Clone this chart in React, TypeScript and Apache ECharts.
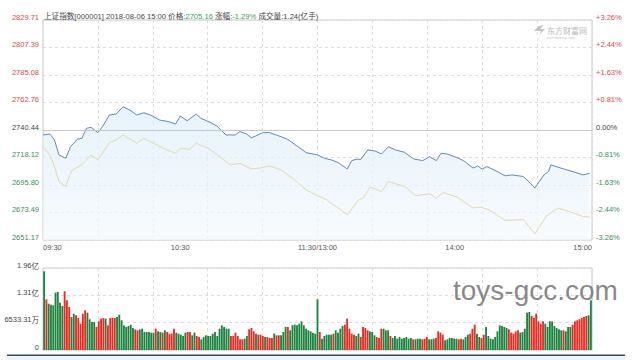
import React, { useEffect, useRef } from 'react';
import * as echarts from 'echarts';

const leftTicks = ['2651.17', '2673.49', '2695.80', '2718.12', '2740.44', '2762.76', '2785.08', '2807.39', '2829.71'];
const rightTicks = ['-3.26%', '-2.44%', '-1.63%', '-0.81%', '0.00%', '+0.81%', '+1.63%', '+2.44%', '+3.26%'];
const timeTicks = [0, 60, 120, 180, 240];
const timeLabels = ['09:30', '10:30', '11:30/13:00', '14:00', '15:00'];
const volTickNums = ['0', '6533.31', '1.31', '1.96'];
const volTickUnits = ['', '万', '亿', '亿'];

const PREV_CLOSE = 2740.44;
const PRICE_MIN = 2651.17;
const PRICE_MAX = 2829.71;
const PCT_MAX = 3.26;
const VOL_MAX = 19599.93;

const priceMinutes = [
  0, 3, 5, 7, 10, 12, 15, 17, 19, 21,
  24, 26, 29, 32, 35, 38, 41, 44, 47, 51,
  55, 58, 60, 63, 67, 69, 73, 76, 80, 84,
  86, 89, 91, 93, 96, 99, 102, 107, 111, 115,
  120, 123, 126, 129, 133, 135, 137, 139, 142, 145,
  148, 151, 154, 158, 162, 166, 169, 172, 174, 177,
  181, 184, 188, 190, 192, 194, 198, 202, 205, 210,
  213, 215, 219, 221, 222, 225, 229, 233, 236, 239,
];
const priceValues = [
  2736.4, 2737.2, 2732.4, 2720.2, 2717.5, 2726.9, 2732.9, 2733.7, 2741.8, 2742.6,
  2738.3, 2743.1, 2752.6, 2753.4, 2759.3, 2756.6, 2752.6, 2754.4, 2752.6, 2748.5,
  2747.2, 2745.3, 2751.8, 2748.0, 2753.4, 2749.9, 2746.7, 2743.7, 2736.4, 2736.4,
  2739.1, 2737.2, 2734.2, 2735.6, 2738.3, 2738.3, 2736.4, 2732.9, 2727.5, 2722.1,
  2720.2, 2717.5, 2716.2, 2714.0, 2708.9, 2715.6, 2716.7, 2716.7, 2724.3, 2723.5,
  2721.0, 2726.9, 2724.3, 2722.4, 2717.0, 2715.6, 2718.8, 2715.6, 2721.6, 2720.8,
  2718.0, 2715.4, 2709.5, 2711.3, 2708.7, 2710.8, 2707.3, 2703.2, 2704.0, 2702.7,
  2697.3, 2693.3, 2704.0, 2706.7, 2712.1, 2710.3, 2708.1, 2705.9, 2704.0, 2705.2,
];

const leadMinutes = [
  0, 3, 5, 7, 10, 12, 13, 17, 21, 24,
  29, 32, 35, 41, 44, 49, 54, 58, 60, 64,
  67, 73, 79, 82, 86, 91, 95, 99, 104, 109,
  115, 120, 124, 129, 133, 138, 140, 143, 148, 151,
  158, 163, 169, 172, 175, 181, 188, 191, 195, 202,
  210, 215, 220, 225, 230, 236, 239,
];
const leadValues = [
  2726.9, 2720.2, 2710.8, 2698.6, 2694.6, 2705.4, 2708.1, 2712.1, 2720.2, 2716.2,
  2730.2, 2732.4, 2736.4, 2729.7, 2733.7, 2729.1, 2724.3, 2721.6, 2725.6, 2724.8,
  2729.7, 2724.8, 2716.2, 2712.1, 2713.5, 2708.9, 2709.5, 2711.3, 2708.1, 2701.4,
  2691.9, 2687.1, 2683.8, 2677.1, 2671.7, 2683.8, 2685.2, 2694.1, 2690.5, 2698.6,
  2694.6, 2687.1, 2688.7, 2685.2, 2689.7, 2686.0, 2677.1, 2677.9, 2675.7, 2667.1,
  2667.7, 2656.3, 2670.3, 2677.1, 2674.4, 2670.3, 2669.8,
];

// volume per minute, in 万
const volumes = [
  18800, 12110, 11075, 10836, 10676, 13704, 13863, 11314, 10517, 14023,
  11872, 10278, 7888, 8684, 8286, 7649, 6294, 8684, 9481, 8924,
  7330, 6693, 6693, 5498, 6852, 7489, 7649, 7489, 5896, 7649,
  7649, 7649, 7888, 8445, 7091, 5896, 5498, 5737, 6055, 5259,
  4940, 4701, 4940, 5099, 4302, 4302, 4302, 4143, 4143, 5099,
  4462, 4302, 4143, 4701, 4302, 3904, 3904, 5099, 4143, 3904,
  3665, 3346, 4143, 4302, 4302, 3506, 4143, 3346, 3107, 2550,
  3107, 3506, 3346, 3346, 3904, 4302, 3346, 5099, 5896, 5498,
  5099, 5099, 3346, 3346, 4143, 3346, 2550, 2550, 2709, 3346,
  4940, 5259, 4462, 3904, 3665, 3665, 3346, 3107, 3107, 2868,
  2868, 3904, 3506, 3506, 3506, 4302, 5498, 5498, 4701, 5896,
  6055, 5896, 6294, 6852, 5896, 5099, 4701, 4462, 4143, 3904,
  12110, 4302, 2709, 3346, 3665, 3665, 3665, 3904, 4701, 4143,
  5099, 5737, 6055, 7489, 5099, 3904, 3665, 3346, 3904, 3107,
  5498, 5259, 4701, 4462, 4302, 3506, 3107, 2868, 5099, 5099,
  4701, 4701, 3346, 2868, 3346, 2709, 3107, 2709, 2868, 3107,
  2709, 2868, 2550, 2550, 2709, 2709, 2550, 2709, 3107, 2550,
  2550, 2709, 2868, 4462, 4143, 3665, 2311, 2550, 2868, 2868,
  2709, 2709, 2550, 2709, 2550, 3107, 3665, 3904, 5099, 6055,
  3904, 3107, 2868, 3665, 5498, 3346, 2709, 2550, 3107, 4462,
  5896, 5737, 5498, 5259, 4940, 4143, 3904, 4462, 4701, 4143,
  4302, 5099, 8924, 9083, 8127, 7649, 8684, 6852, 6294, 6852,
  6294, 5498, 6852, 6852, 5737, 5259, 4940, 4701, 4701, 4462,
  5498, 5498, 6055, 6852, 7091, 7330, 7649, 7888, 8127, 8286,
  11872,
];
// r = up (red), g = down (green)
const volColors =
  'grgggggggr' + 'rrggrrrrrg' + 'gggrrrrgrr' + 'rrgggggggg' + 'rrgggggggr' +
  'ggrgrrrrgg' + 'gggrrggrrg' + 'gggggggggg' +
  'ggrrrrrrgg' + 'rrrgrrrgrr' + 'rgrrgggrgg' + 'gggggggggg' +
  'grgggggrgg' + 'ggrrrrrgg' + 'r' + 'rrrgggrrrg' + 'ggrgggggg' + 'g' +
  'ggrgggrrrg' + 'ggrrrrggg' + 'g' + 'ggrrgggrrr' + 'ggrrggggg' + 'g' +
  'ggggrrrrrg' + 'ggggrrrrrr' + 'ggggggggrg' + 'ggrrrrrr' + 'r';

const RED = '#ec2a22';
const GREEN = '#1d8440';
const TXT_RED = '#d34a4a';
const TXT_GREEN = '#3a8c5a';
const FONT = '"Liberation Sans", Arial, "Noto Sans CJK SC", sans-serif';
const CJK = '"Noto Sans CJK SC", sans-serif';
const FS = 7.5;

const priceStep = (PRICE_MAX - PRICE_MIN) / 8;
const pctStep = (PCT_MAX * 2) / 8;
const volStep = VOL_MAX / 3;

function priceIdx(v: number) {
  return Math.round((Number(v) - PRICE_MIN) / priceStep);
}
function pctIdx(v: number) {
  return Math.round((Number(v) + PCT_MAX) / pctStep);
}
function sideColor(i: number) {
  return i > 4 ? TXT_RED : i < 4 ? TXT_GREEN : '#444';
}

export default function App() {
  const ref = useRef<HTMLDivElement>(null);

  useEffect(() => {
    if (!ref.current) return;
    const chart = echarts.init(ref.current, null, { renderer: 'svg' });
    const dashed = { show: true, lineStyle: { color: '#dcdcdc', type: [3, 3] as any, width: 1 } };
    const noAxis = { show: false };
    const liftLabel = { verticalAlign: 'bottom', lineHeight: 6 };

    const priceData = priceMinutes.map((m, i) => [m, priceValues[i]]);
    const leadData = leadMinutes.map((m, i) => [m, leadValues[i]]);
    const volData = volumes.map((v, i) => ({
      value: v,
      itemStyle: { color: volColors[i] === 'r' ? RED : GREEN },
    }));

    chart.setOption({
      animation: false,
      textStyle: { fontFamily: FONT },
      grid: [
        { left: 43, right: 48, top: 20, height: 220, show: true, borderColor: '#c8c8c8', borderWidth: 1, backgroundColor: 'transparent', containLabel: false, outerBoundsMode: 'none' },
        { left: 43, right: 48, top: 268, height: 82, show: true, borderColor: '#c8c8c8', borderWidth: 1, backgroundColor: 'transparent', containLabel: false, outerBoundsMode: 'none' },
      ],
      xAxis: [
        {
          type: 'value', gridIndex: 0, min: 0, max: 240, interval: 24,
          axisLine: noAxis, axisTick: noAxis,
          splitLine: dashed,
          axisLabel: {
            customValues: timeTicks,
            formatter: (v: number) => timeLabels[timeTicks.indexOf(Math.round(v))] ?? '',
            fontSize: FS, color: '#555', margin: 4, fontFamily: FONT,
            alignMinLabel: 'left', alignMaxLabel: 'right',
          },
        },
        {
          type: 'category', gridIndex: 1, data: volumes.map((_, i) => String(i)),
          boundaryGap: true,
          axisLine: noAxis, axisTick: noAxis, axisLabel: noAxis, splitLine: noAxis,
        },
        {
          type: 'value', gridIndex: 1, min: 0, max: 240, interval: 24, position: 'top',
          axisLine: noAxis, axisTick: noAxis, axisLabel: noAxis, splitLine: dashed,
        },
      ],
      yAxis: [
        {
          type: 'value', gridIndex: 0, min: PRICE_MIN, max: PRICE_MAX, interval: priceStep,
          position: 'left', axisLine: noAxis, axisTick: noAxis, splitLine: dashed,
          axisLabel: {
            formatter: (v: number) => leftTicks[priceIdx(v)] ?? '',
            color: (v: any) => sideColor(priceIdx(v)),
            fontSize: FS, margin: 4, fontFamily: FONT, ...liftLabel,
          },
        },
        {
          type: 'value', gridIndex: 0, min: -PCT_MAX, max: PCT_MAX, interval: pctStep,
          position: 'right', axisLine: noAxis, axisTick: noAxis, splitLine: noAxis,
          axisLabel: {
            formatter: (v: number) => rightTicks[pctIdx(v)] ?? '',
            color: (v: any) => sideColor(pctIdx(v)),
            fontSize: FS, margin: 4, fontFamily: FONT, ...liftLabel,
          },
        },
        {
          type: 'value', gridIndex: 1, min: 0, max: VOL_MAX, interval: volStep,
          position: 'left',
          axisLine: { show: false, onZero: false }, axisTick: noAxis, splitLine: dashed,
          axisLabel: {
            formatter: (v: number) => {
              const i = Math.round(Number(v) / volStep);
              const n = volTickNums[i] ?? '';
              const u = volTickUnits[i] ?? '';
              return u ? `{n|${n}}{u|${u}}` : `{n|${n}}`;
            },
            color: '#444', fontSize: FS, margin: 4, fontFamily: FONT, ...liftLabel,
            rich: {
              n: { fontSize: FS, fontFamily: FONT, color: '#444', lineHeight: 6 },
              u: { fontSize: FS, fontFamily: CJK, color: '#444', lineHeight: 6, width: FS },
            },
          },
        },
      ],
      series: [
        {
          type: 'line', xAxisIndex: 0, yAxisIndex: 0, data: priceData,
          showSymbol: false, symbol: 'none', smooth: false, z: 4,
          lineStyle: { color: '#6189b4', width: 1 },
          areaStyle: {
            origin: 'start',
            color: new echarts.graphic.LinearGradient(0, 0, 0, 1, [
              { offset: 0, color: '#dcedf9' },
              { offset: 1, color: '#f4f9fd' },
            ]),
          },
          markLine: {
            silent: true, symbol: 'none', label: { show: false },
            lineStyle: { color: '#c6c6c6', type: 'solid', width: 1 },
            data: [{ yAxis: PREV_CLOSE }],
          },
        },
        {
          type: 'line', xAxisIndex: 0, yAxisIndex: 0, data: leadData,
          showSymbol: false, symbol: 'none', z: 5,
          lineStyle: { color: '#e2d9a6', width: 1 },
        },
        {
          type: 'bar', xAxisIndex: 1, yAxisIndex: 2, data: volData,
          barCategoryGap: '18%',
        },
      ],
      graphic: [
        {
          type: 'text', x: 44, y: 16, z: 10,
          style: {
            text: '{a|上证指数[000001] 2018-08-06 15:00 价格:}{g|2705.16}{a| 涨幅:}{g|-1.29%}{a| 成交量:1.24(亿手)}',
            verticalAlign: 'middle', font: `7.6px ${FONT}`,
            rich: {
              a: { fill: '#444', fontSize: 7.6, fontFamily: FONT },
              g: { fill: '#3a9a5c', fontSize: 7.6, fontFamily: FONT },
            },
          },
        },
        {
          type: 'polygon', z: 10,
          shape: { points: [[534, 31], [539, 26], [544, 25], [540, 29], [545, 29], [539, 35], [541, 31]] },
          style: { fill: '#c2c2c2' },
        },
        {
          type: 'text', x: 547, y: 30, z: 10,
          style: { text: '东方财富网', fill: '#b8b8b8', fontSize: 8, fontFamily: CJK, verticalAlign: 'middle' },
        },
        {
          type: 'text', x: 547, y: 37, z: 10,
          style: { text: 'eastmoney.com', fill: '#c8c8c8', fontSize: 4, fontFamily: FONT, verticalAlign: 'middle' },
        },
        {
          type: 'text', x: 453, y: 276, z: 20,
          style: { text: 'toys-gcc.com', fill: 'rgba(115,115,115,0.85)', fontSize: 28, fontFamily: FONT, verticalAlign: 'top' },
        },
        {
          type: 'rect', z: 10,
          shape: { x: 7, y: 356.5, width: 618, height: 4 },
          style: { fill: '#e8f3fb' },
        },
        {
          type: 'rect', z: 11,
          shape: { x: 7, y: 354.5, width: 618, height: 1.6 },
          style: { fill: '#34495e' },
        },
      ],
    });
    return () => chart.dispose();
  }, []);

  return (
    <div style={{ position: 'fixed', left: 0, top: 0, width: 640, height: 360, background: '#fff', overflow: 'hidden' }}>
      <div ref={ref} style={{ position: 'absolute', left: 0, top: 0, width: 640, height: 360 }} />
    </div>
  );
}
